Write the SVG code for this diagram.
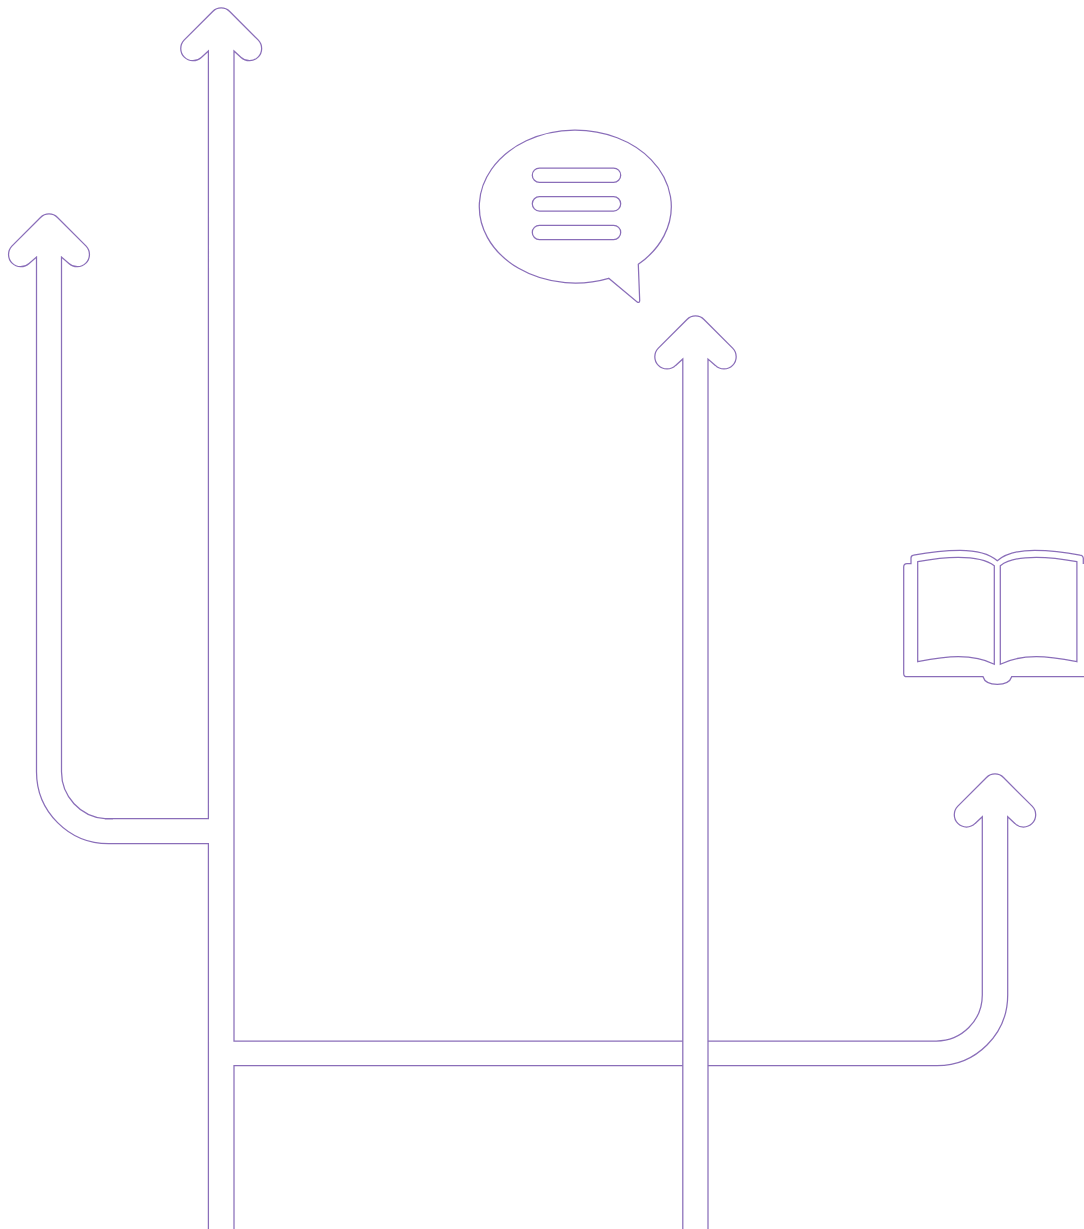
<svg xmlns="http://www.w3.org/2000/svg" width="1084" height="1229" viewBox="0 0 1084 1229">
<style>
.o{fill:none;stroke:#8a6eb9;stroke-width:1.25}
</style>
<rect width="1084" height="1229" fill="#ffffff"/>
<g id="connectors">
<path id="branch-top-left" class="o" d="M208.4 1229V843.7H108.5A72 72 0 0 1 36.5 771.7V257L29.1 263.43A12.2 12.2 0 0 1 11.87 246.17L40.5 217.51A12 12 0 0 1 57.5 217.51L86.13 246.17A12.2 12.2 0 0 1 68.9 263.43L61.5 257V771.7A47 47 0 0 0 105 818.7H208.4V51L201.3 57.43A12.2 12.2 0 0 1 184.07 40.17L212.7 11.51A12 12 0 0 1 229.7 11.51L258.33 40.17A12.2 12.2 0 0 1 241.1 57.43L234 51V1041H682.8"/>
<path id="overlap" class="o" d="M105 818.7H113"/>
<path id="branch-right" class="o" d="M234 1229V1065.7H682.8M707.9 1065.7H937A70.7 70.7 0 0 0 1007.7 995V816.7L1014.87 823.43A12.2 12.2 0 0 0 1032.13 806.17L1003.49 777.51A12 12 0 0 0 986.51 777.51L957.87 806.17A12.2 12.2 0 0 0 975.13 823.43L982.3 816.7V995A46 46 0 0 1 936.3 1041H707.9"/>
<path id="shaft-middle" class="o" d="M682.8 1229V359L675.63 365.43A12.2 12.2 0 0 1 658.37 348.17L687 319.51A12 12 0 0 1 704 319.51L732.63 348.17A12.2 12.2 0 0 1 715.37 365.43L708 359V1229"/>
</g>
<g id="speech-bubble">
<path class="o" d="M638.3 264.3L639.7 300.5Q639.7 303 637.4 302.2L608.7 278.3A96 76.5 0 1 1 638.3 264.3Z"/>
<rect class="o" x="532.3" y="168" width="88.4" height="14.3" rx="7.15"/>
<rect class="o" x="532.3" y="196.7" width="88.4" height="14.3" rx="7.15"/>
<rect class="o" x="532.3" y="225.3" width="88.4" height="14.3" rx="7.15"/>
</g>
<g id="book">
<path class="o" d="M1084 676.7H1011.7C1010 682 1005 684.3 997.3 684.3C989.6 684.3 984.6 682 983 676.7H907A3.3 3.3 0 0 1 903.7 673.4V567A3.3 3.3 0 0 1 907 563.7H911V558A3 3 0 0 1 913.5 555.2C930 552 945 550.3 960 550.3C975 550.3 989 553.5 997.3 560.7C1005.6 553.5 1019.6 550.3 1034.6 550.3C1049.6 550.3 1064.6 552 1080 555.2A3.5 3.5 0 0 1 1083.3 558V564"/>
<path class="o" d="M917.7 561.7C932 559 945 557.3 958.3 557.3C975 557.3 987 560 994.3 565.7V664.3C984 659 971 656.7 958.3 656.7C945 656.7 932 659 917.7 661.7Z"/>
<path class="o" d="M1076.9 561.7C1062.6 559 1049.6 557.3 1036.3 557.3C1019.6 557.3 1007.6 560 1000.3 565.7V664.3C1010.6 659 1023.6 656.7 1036.3 656.7C1049.6 656.7 1062.6 659 1076.9 661.7Z"/>
</g>
</svg>
